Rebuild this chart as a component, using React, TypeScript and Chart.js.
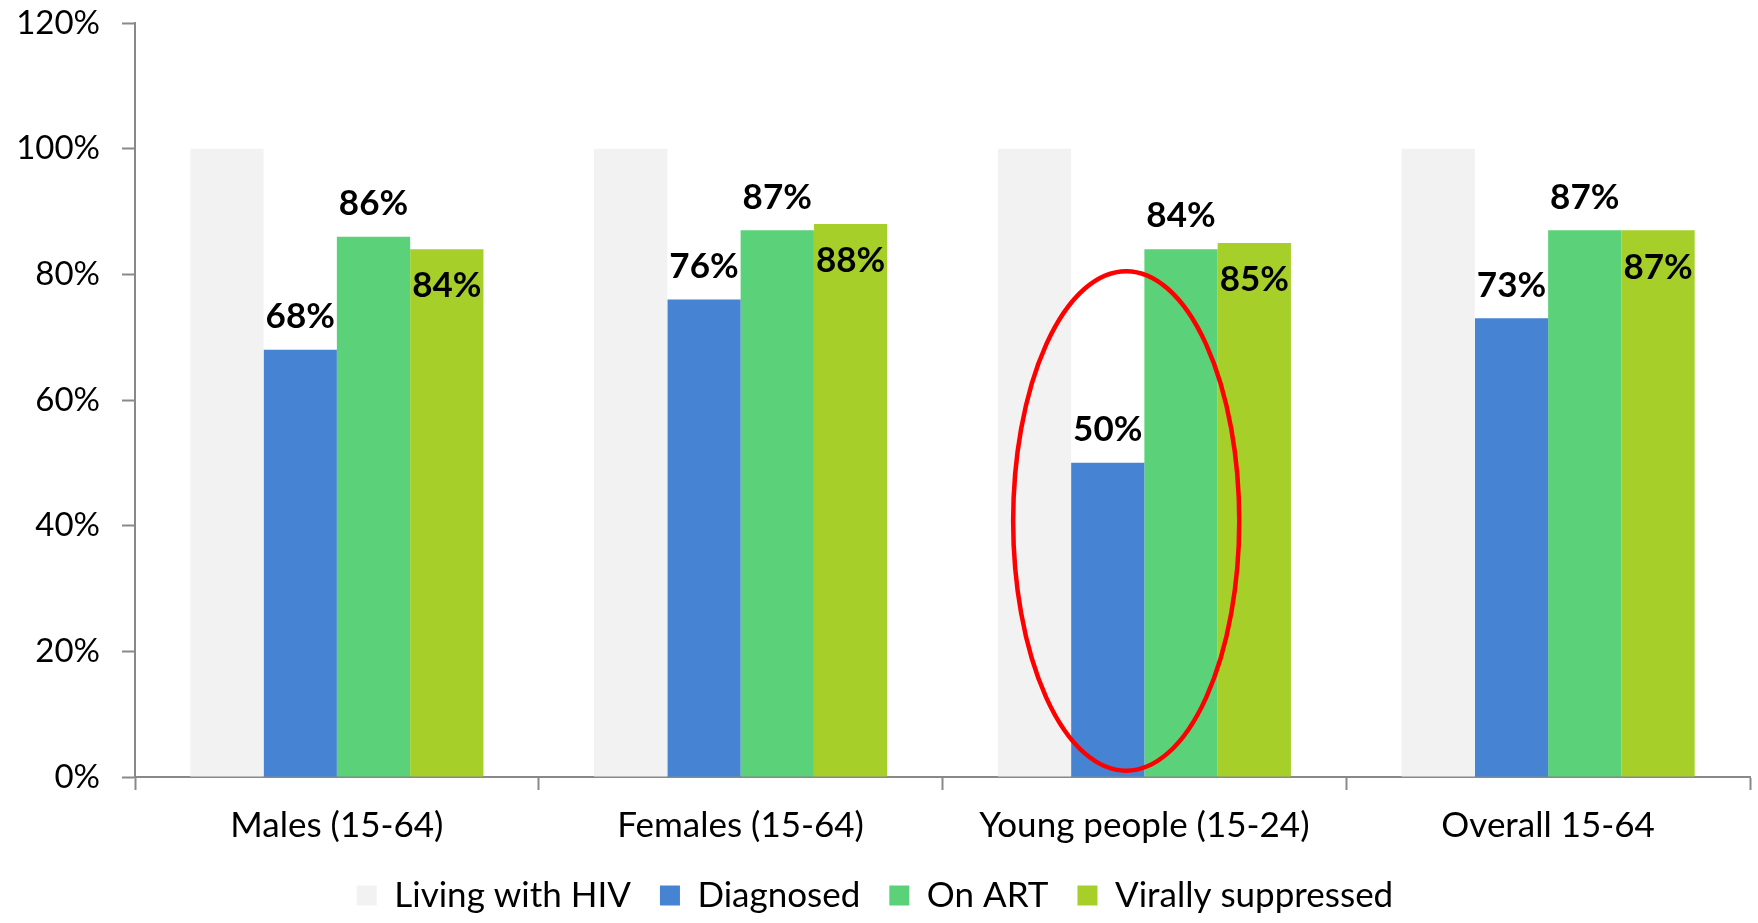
import React, { useEffect, useRef } from "react";
import { Chart, registerables } from "chart.js";

Chart.register(...registerables);

const categories = ["Males (15-64)", "Females (15-64)", "Young people (15-24)", "Overall 15-64"];
const livingWithHIV = [100, 100, 100, 100];
const diagnosed = [68, 76, 50, 73];
const onART = [86, 87, 84, 87];
const virallySuppressed = [84, 88, 85, 87];
const yTickValues = [0, 20, 40, 60, 80, 100, 120];

// highlighted group (red ellipse) – category index and value span
const highlightIndex = 2;
const highlightLow = 1;
const highlightHigh = 80.5;

const FONT = "Lato, 'Noto Sans', sans-serif";
const AXIS = "#898989";

const labelPlugin = {
  id: "valueLabels",
  afterDatasetsDraw(chart: any) {
    const ctx = chart.ctx;
    ctx.save();
    ctx.fillStyle = "#000";
    ctx.font = `bold 35px ${FONT}`;
    ctx.textAlign = "center";
    ctx.textBaseline = "middle";
    [1, 2, 3].forEach((di) => {
      const meta = chart.getDatasetMeta(di);
      const data = chart.data.datasets[di].data as number[];
      meta.data.forEach((bar: any, i: number) => {
        const txt = `${data[i]}%`;
        const y = di === 3 ? bar.y + 37 : bar.y - 33;
        ctx.fillText(txt, bar.x, y);
      });
    });
    // red ellipse annotation
    const xs = chart.scales.x;
    const ys = chart.scales.y;
    const catW = xs.getPixelForValue(1) - xs.getPixelForValue(0);
    const cx = xs.getPixelForValue(highlightIndex) - 0.045 * catW;
    const rx = 0.28 * catW;
    const yTop = ys.getPixelForValue(highlightHigh);
    const yBot = ys.getPixelForValue(highlightLow);
    ctx.beginPath();
    ctx.ellipse(cx, (yTop + yBot) / 2, rx, (yBot - yTop) / 2, 0, 0, Math.PI * 2);
    ctx.strokeStyle = "#FF0000";
    ctx.lineWidth = 4.5;
    ctx.stroke();
    ctx.restore();
  },
};

export default function App() {
  const ref = useRef<HTMLCanvasElement | null>(null);
  useEffect(() => {
    if (!ref.current) return;
    const chart = new Chart(ref.current, {
      type: "bar",
      data: {
        labels: categories,
        datasets: [
          { label: "Living with HIV", data: livingWithHIV, backgroundColor: "#F2F2F2" },
          { label: "Diagnosed", data: diagnosed, backgroundColor: "#4684D3" },
          { label: "On ART", data: onART, backgroundColor: "#5BD17A" },
          { label: "Virally suppressed", data: virallySuppressed, backgroundColor: "#A6CF2A" },
        ],
      },
      options: {
        responsive: false,
        animation: false,
        layout: { padding: { left: 0, right: 8, top: 23, bottom: 0 } },
        datasets: { bar: { categoryPercentage: 0.726, barPercentage: 1, borderWidth: 0 } },
        plugins: {
          tooltip: { enabled: false },
          legend: {
            position: "bottom",
            labels: {
              boxWidth: 20,
              boxHeight: 20,
              padding: 29,
              color: "#000",
              font: { family: FONT, size: 35 },
            },
          },
        },
        scales: {
          x: {
            grid: { drawOnChartArea: false, drawTicks: true, tickLength: 13, tickColor: AXIS, tickWidth: 2, offset: true },
            border: { display: true, color: AXIS, width: 2 },
            ticks: { color: "#000", font: { family: FONT, size: 35 }, padding: 15, maxRotation: 0 },
            afterFit: (s: any) => { s.height = 72; s.paddingLeft = 0; s.paddingRight = 0; },
          },
          y: {
            min: 0,
            max: 120,
            afterBuildTicks: (s: any) => { s.ticks = yTickValues.map((v) => ({ value: v })); },
            grid: { drawOnChartArea: false, drawTicks: true, tickLength: 13, tickColor: AXIS, tickWidth: 2 },
            border: { display: true, color: AXIS, width: 2 },
            ticks: {
              color: "#000",
              font: { family: FONT, size: 33 },
              padding: 22,
              callback: (v: any) => `${v}%`,
            },
            afterFit: (s: any) => { s.width = 135; s.paddingTop = 0; s.paddingBottom = 0; },
          },
        },
      },
      plugins: [labelPlugin],
    });
    return () => chart.destroy();
  }, []);
  return (
    <div style={{ position: "absolute", left: 0, top: 0, width: 1758, height: 923, background: "#fff" }}>
      <canvas ref={ref} width={1758} height={923} />
    </div>
  );
}
